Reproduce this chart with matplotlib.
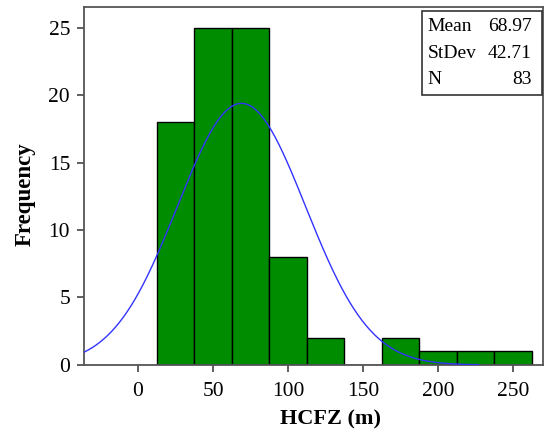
import numpy as np
import matplotlib
matplotlib.use("Agg")
import matplotlib.pyplot as plt

# histogram bins (width 25) and counts
bin_edges = [12.5, 37.5, 62.5, 87.5, 112.5, 137.5, 162.5, 187.5, 212.5, 237.5, 262.5]
counts = [18, 25, 25, 8, 2, 0, 2, 1, 1, 1]
mean = 68.97
stdev = 42.71
n = 83
bin_width = 25

plt.rcParams['font.family'] = ['Liberation Serif', 'DejaVu Serif']

fig = plt.figure(figsize=(5.44, 4.30), dpi=100)
ax = fig.add_axes([0.1544, 0.1512, 0.8438, 0.8319])

lefts = bin_edges[:-1]
widths = np.diff(bin_edges)
ax.bar(lefts, counts, width=widths, align='edge', color='#008C00',
       edgecolor='black', linewidth=1.0, zorder=2)

# fitted normal curve
xs = np.linspace(-36, 227, 400)
ys = n * bin_width / (stdev * np.sqrt(2 * np.pi)) * np.exp(-(xs - mean) ** 2 / (2 * stdev ** 2))
ax.plot(xs, ys, color='#3333FF', linewidth=1.0, zorder=3)

ax.set_xlim(-36, 270)
ax.set_ylim(0, 26.5)
ax.set_xticks([0, 50, 100, 150, 200, 250])
ax.set_yticks([0, 5, 10, 15, 20, 25])
ax.tick_params(labelsize=15.5, length=5, width=1.2, color='#444444', direction='out')
ax.tick_params(axis='x', pad=7)
ax.tick_params(axis='y', pad=5)
for s in ax.spines.values():
    s.set_color('#555555')
    s.set_linewidth(1.3)

ax.set_xlabel('HCFZ (m)', fontsize=16, fontweight='bold')
ax.xaxis.set_label_coords(0.536, -0.125)
ax.set_ylabel('Frequency', fontsize=16.5, fontweight='bold')
ax.yaxis.set_label_coords(-0.105, 0.477)

# stats box
box = matplotlib.patches.Rectangle((0.736, 0.755), 0.261, 0.235, transform=ax.transAxes,
                                   facecolor='white', edgecolor='#333333', linewidth=1.2, zorder=4)
ax.add_patch(box)
rows = [('Mean', f'{mean:.2f}'), ('StDev', f'{stdev:.2f}'), ('N', f'{n}')]
row_y = [0.946, 0.871, 0.799]
for (lab, val), y in zip(rows, row_y):
    ax.text(0.749, y, lab, transform=ax.transAxes, fontsize=14, va='center', ha='left', zorder=5)
    ax.text(0.976, y, val, transform=ax.transAxes, fontsize=14, va='center', ha='right', zorder=5)

fig.savefig('out.png', dpi=100)
